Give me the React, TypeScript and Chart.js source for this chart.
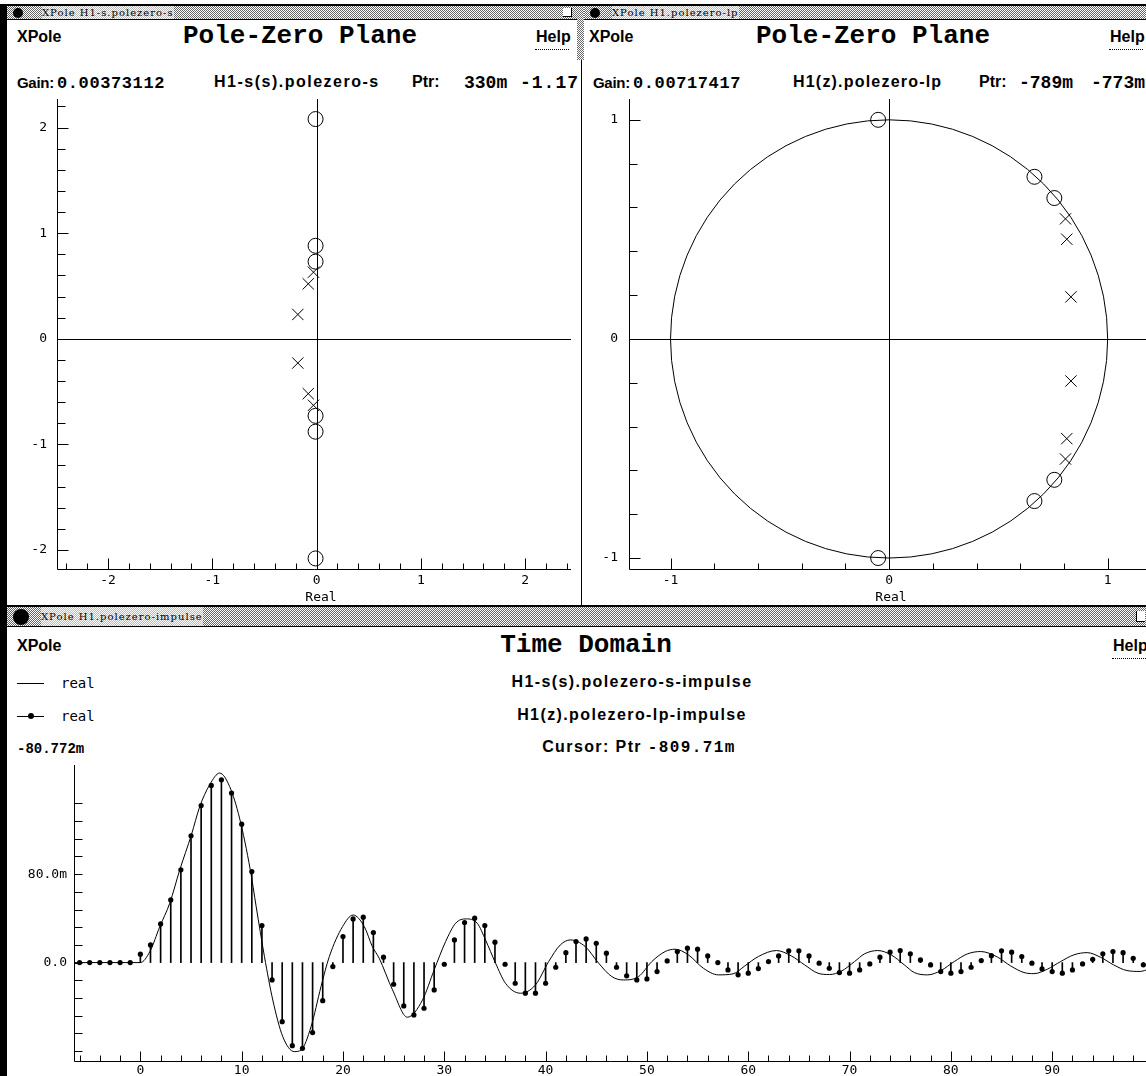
import React, { useEffect, useRef } from 'react';
import { Chart, registerables } from 'chart.js';

Chart.register(...registerables);

// ---------------- data ----------------
// s-plane (H1-s)
const S_ZERO_RE = [-0.01, -0.01, -0.01, -0.01, -0.01, -0.01];
const S_ZERO_IM = [2.08, 0.88, 0.73, -0.73, -0.88, -2.08];
const S_POLE_RE = [-0.03, -0.08, -0.18, -0.18, -0.08, -0.03];
const S_POLE_IM = [0.63, 0.52, 0.23, -0.23, -0.52, -0.63];
const S_TICK_LABELS = [-2, -1, 0, 1, 2];

// z-plane (H1-lp)
const Z_ZERO_RE = [-0.05, 0.665, 0.756, 0.756, 0.665, -0.05];
const Z_ZERO_IM = [1.0, 0.74, 0.643, -0.643, -0.74, -1.0];
const Z_POLE_RE = [0.807, 0.813, 0.832, 0.832, 0.813, 0.807];
const Z_POLE_IM = [0.548, 0.455, 0.192, -0.192, -0.455, -0.548];
const Z_TICK_LABELS = [-1, 0, 1];

// time domain, continuous impulse response (values in milli-units)
const CONT_T = [
  -6.55, 0, 0.94, 1.92, 2.9, 3.89, 5.04, 5.86, 6.84, 7.83, 8.81, 9.79, 10.85, 11.43, 12.25,
  13.07, 14.06, 15.2, 15.87, 16.85, 17.83, 18.65, 19.96, 21.0, 22.1, 22.9, 23.57, 24.89,
  26.36, 27.85, 29.0, 30.13, 31.12, 32.17, 33.25, 34.07, 35.06, 36.04, 37.51, 39.0, 40.3,
  41.45, 42.44, 43.91, 45.23, 46.54, 47.69, 49.17, 50.48, 51.8, 52.78, 54.09, 55.57, 57.05,
  58.5, 59.66, 61.0, 62.78, 64.26, 65.57, 66.88, 68.03, 69.18, 70.49, 71.48, 72.78, 74.1,
  75.41, 76.39, 77.71, 79.02, 80.33, 81.64, 82.95, 84.6, 85.9, 87.22, 88.2, 89.52, 90.83,
  92.14, 93.45, 94.76, 96.07, 97.38, 98.69, 99.5,
];
const CONT_MILLI = [
  0, 0, 10, 32.6, 53.7, 83.9, 115.6, 141, 160.8, 171.4, 159.3, 130.7, 83.9, 50.7, 5.4,
  -33.8, -67, -80.5, -79, -57.9, -21.7, 5.4, 32.6, 43, 32.6, 14.5, 4, -24.7,
  -49.4, -33.8, -6.6, 19, 35.6, 39.5, 35.6, 20.5, -0.5, -18.7, -27.7, -20.2, 0.9,
  16, 20.5, 14.5, -0.5, -12.7, -15.7, -12.7, 0.9, 10, 12.1, 7, -5.1, -11.1,
  -10.2, -3, 5.5, 10.9, 6, -2.1, -9.6, -10.8, -7.8, 0.9, 7.9, 10.9, 7,
  -2.1, -9, -11.1, -7.2, 0.9, 7.9, 10, 5, -3, -9, -10, -6, 0.9,
  7, 9, 4.9, -2.1, -7.2, -8, -6,
];

// time domain, discrete impulse response (values in milli-units)
const DISC_N = [
  -6, -5, -4, -3, -2, -1, 0, 1, 2, 3, 4, 5, 6, 7, 8, 9, 10, 11, 12, 13, 14, 15, 16, 17, 18, 19,
  20, 21, 22, 23, 24, 25, 26, 27, 28, 29, 30, 31, 32, 33, 34, 35, 36, 37, 38, 39, 40, 41, 42,
  43, 44, 45, 46, 47, 48, 49, 50, 51, 52, 53, 54, 55, 56, 57, 58, 59, 60, 61, 62, 63, 64, 65,
  66, 67, 68, 69, 70, 71, 72, 73, 74, 75, 76, 77, 78, 79, 80, 81, 82, 83, 84, 85, 86, 87, 88,
  89, 90, 91, 92, 93, 94, 95, 96, 97, 98, 99,
];
const DISC_MILLI = [
  0, 0, 0, 0, 0, 0, 7.6, 16, 35, 56.7, 83.9, 114.7, 142, 160.2, 165.3, 153.3, 125.2, 82.4, 33.5,
  -15.7, -53.4, -75.1, -77.5, -63.3, -34.4, -3.6,
  23.5, 39.5, 41.1, 27.2, 4.9, -19.6, -39.2, -47.3, -41.3, -24.7, -1.5, 20.5, 36.2, 40.2, 33.5,
  18.5, -1.5, -18.7, -27.7, -27.7, -18.7, -4.2, 9,
  19, 21.4, 17.5, 8.5, -4.2, -12, -15.7, -14.8, -8.1, 1.5, 10, 13, 12.1, 6, 0, -6.6, -11.1,
  -9.6, -5.4, 0.9, 6, 10.6, 10.6,
  6, -0.5, -5.1, -9, -9.6, -6.6, -1.2, 4.9, 9.4, 10.9, 7.9, 2.4, -2.1, -8.1, -9.6, -8.1, -4.2,
  1.8, 6.3, 10.6, 9.4, 5.5, -0.5,
  -5.7, -8.1, -9.6, -6.6, -1.2, 3, 7.9, 10, 9, 3.9, -2,
];
const TIME_X_LABEL_VALUES = [0, 10, 20, 30, 40, 50, 60, 70, 80, 90];
const TIME_Y_TICKS = [-80, -64, -48, -32, -16, 0, 16, 32, 48, 64, 80, 96, 112, 128, 144];
const TIME_Y_LABEL_VALUES = [0, 80];
const TIME_Y_LABELS = ['0.0', '80.0m'];

// ---------------- fonts ----------------
const SANS = "'Liberation Sans', Arial, sans-serif";
const MONO = "'Liberation Mono', 'Courier New', monospace";
const TICKF = "'DejaVu Sans Mono', monospace";
const SERIF = "'DejaVu Serif', serif";
const METRICS: Record<string, [number, number]> = {
  [SANS]: [0.905, 0.212],
  [MONO]: [0.833, 0.3],
  [TICKF]: [0.928, 0.236],
  [SERIF]: [0.928, 0.236],
};

const isMult = (v: number, m: number) => Math.abs(v / m - Math.round(v / m)) < 1e-6;

// ---------------- plugin: axes, inward ticks, crosshair, unit circle ----------------
const xpoleFrame = {
  id: 'xpoleFrame',
  beforeDatasetsDraw(chart: any, _a: any, o: any) {
    const { ctx, chartArea: a, scales } = chart;
    const x = scales.x;
    const y = scales.y;
    ctx.save();
    ctx.strokeStyle = '#000';
    ctx.lineWidth = 1;
    if (o.crosshair) {
      const px = Math.round(x.getPixelForValue(0)) + 0.5;
      const py = Math.round(y.getPixelForValue(0)) + 0.5;
      ctx.beginPath();
      ctx.moveTo(px, a.top);
      ctx.lineTo(px, a.bottom);
      ctx.moveTo(a.left, py);
      ctx.lineTo(a.right, py);
      ctx.stroke();
    }
    if (o.unitCircle) {
      const cx = x.getPixelForValue(0);
      const cy = y.getPixelForValue(0);
      const rx = x.getPixelForValue(1) - cx;
      const ry = cy - y.getPixelForValue(1);
      ctx.beginPath();
      ctx.ellipse(cx, cy, rx, ry, 0, 0, Math.PI * 2);
      ctx.stroke();
    }
    ctx.restore();
  },
  afterDraw(chart: any, _a: any, o: any) {
    const { ctx, chartArea: a, scales } = chart;
    const x = scales.x;
    const y = scales.y;
    ctx.save();
    ctx.strokeStyle = '#000';
    ctx.lineWidth = 1;
    const L = Math.round(a.left) + 0.5;
    const B = Math.round(a.bottom) + 0.5;
    ctx.beginPath();
    ctx.moveTo(L, a.top);
    ctx.lineTo(L, B);
    ctx.lineTo(a.right, B);
    for (const t of x.ticks) {
      const px = Math.round(x.getPixelForValue(t.value)) + 0.5;
      const len = isMult(t.value, o.xMajor) ? o.xMajorLen : o.xMinorLen;
      ctx.moveTo(px, B);
      ctx.lineTo(px, B - len);
    }
    for (const t of y.ticks) {
      const py = Math.round(y.getPixelForValue(t.value)) + 0.5;
      const len = isMult(t.value, o.yMajor) ? o.yMajorLen : o.yMinorLen;
      ctx.moveTo(L, py);
      ctx.lineTo(L + len, py);
    }
    ctx.stroke();
    ctx.restore();
  },
};

function axisBase(min: number, max: number, step: number, padding: number, cb: (v: number) => string) {
  return {
    type: 'linear',
    min,
    max,
    offset: false,
    grid: { display: false, drawTicks: false },
    border: { display: false },
    ticks: {
      stepSize: step,
      autoSkip: false,
      maxRotation: 0,
      minRotation: 0,
      includeBounds: false,
      padding,
      color: '#000',
      font: { family: TICKF, size: 13 },
      callback: (v: any) => cb(Number(v)),
    },
  };
}

function ChartBox({ left, top, width, height, make }: any) {
  const ref = useRef<HTMLCanvasElement>(null);
  useEffect(() => {
    const c = new Chart(ref.current as HTMLCanvasElement, make());
    return () => c.destroy();
  }, []);
  return (
    <canvas
      ref={ref}
      width={width}
      height={height}
      style={{ position: 'absolute', left, top, width, height }}
    />
  );
}

function pzConfig(p: any) {
  const intLabel = (labels: number[]) => (v: number) => {
    const r = Math.round(v);
    return Math.abs(v - r) < 1e-6 && labels.includes(r) ? String(r) : '';
  };
  const x: any = axisBase(p.xmin, p.xmax, 0.2, 4, intLabel(p.labels));
  x.afterFit = (s: any) => {
    s.height = p.xH;
    s.paddingLeft = 0;
    s.paddingRight = 0;
  };
  const y: any = axisBase(p.ymin, p.ymax, 0.2, p.yPad, intLabel(p.labels));
  y.afterFit = (s: any) => {
    s.width = p.yW;
    s.paddingTop = 0;
    s.paddingBottom = 0;
  };
  return {
    type: 'scatter',
    data: {
      datasets: [
        {
          label: 'zeros',
          data: p.zr.map((r: number, i: number) => ({ x: r, y: p.zi[i] })),
          pointStyle: 'circle',
          pointRadius: 7.5,
          borderWidth: 1,
          borderColor: '#000',
          pointBackgroundColor: 'rgba(0,0,0,0)',
          backgroundColor: 'rgba(0,0,0,0)',
        },
        {
          label: 'poles',
          data: p.pr.map((r: number, i: number) => ({ x: r, y: p.pi[i] })),
          pointStyle: 'crossRot',
          pointRadius: 8,
          borderWidth: 1,
          borderColor: '#000',
        },
      ],
    },
    options: {
      responsive: false,
      animation: false,
      events: [],
      devicePixelRatio: 1,
      layout: { padding: { top: p.padTop, right: p.padRight, left: 0, bottom: 0 } },
      plugins: {
        legend: { display: false },
        tooltip: { enabled: false },
        xpoleFrame: {
          crosshair: true,
          unitCircle: !!p.unitCircle,
          xMajor: 1,
          yMajor: 1,
          xMajorLen: 11,
          xMinorLen: 6,
          yMajorLen: 11,
          yMinorLen: 8,
        },
      },
      scales: { x, y },
    },
    plugins: [xpoleFrame],
  };
}

function timeConfig() {
  const x: any = axisBase(-6.55, 99.36, 2, 2, (v) =>
    TIME_X_LABEL_VALUES.includes(Math.round(v)) && isMult(v, 1) ? String(Math.round(v)) : ''
  );
  x.afterFit = (s: any) => {
    s.height = 15;
    s.paddingLeft = 0;
    s.paddingRight = 0;
  };
  const y: any = axisBase(-89, 178.7, 16, 7, (v) => {
    const i = TIME_Y_LABEL_VALUES.indexOf(Math.round(v));
    return i >= 0 ? TIME_Y_LABELS[i] : '';
  });
  y.afterBuildTicks = (s: any) => {
    s.ticks = TIME_Y_TICKS.map((v) => ({ value: v }));
  };
  y.afterFit = (s: any) => {
    s.width = 66;
    s.paddingTop = 0;
    s.paddingBottom = 0;
  };
  const samples = DISC_N.map((n, i) => ({ x: n, y: DISC_MILLI[i] }));
  return {
    type: 'scatter',
    data: {
      datasets: [
        {
          type: 'line',
          label: 'H1-s(s).polezero-s-impulse',
          data: CONT_T.map((t, i) => ({ x: t, y: CONT_MILLI[i] })),
          borderColor: '#000',
          borderWidth: 1,
          pointRadius: 0,
          fill: false,
          cubicInterpolationMode: 'monotone',
        },
        {
          type: 'bar',
          label: 'stems',
          data: samples,
          backgroundColor: '#000',
          borderWidth: 0,
          barThickness: 1,
        },
        {
          type: 'scatter',
          label: 'H1(z).polezero-lp-impulse',
          data: samples,
          pointStyle: 'circle',
          pointRadius: 2.6,
          borderWidth: 0,
          pointBackgroundColor: '#000',
          backgroundColor: '#000',
        },
      ],
    },
    options: {
      responsive: false,
      animation: false,
      events: [],
      devicePixelRatio: 1,
      layout: { padding: { top: 10, right: 1, left: 0, bottom: 0 } },
      plugins: {
        legend: { display: false },
        tooltip: { enabled: false },
        xpoleFrame: {
          crosshair: false,
          unitCircle: false,
          xMajor: 10,
          yMajor: 80,
          xMajorLen: 10,
          xMinorLen: 6,
          yMajorLen: 8,
          yMinorLen: 8,
        },
      },
      scales: { x, y },
    },
    plugins: [xpoleFrame],
  };
}

// ---------------- HTML helpers ----------------
function Txt({ x, base, size, family, bold, ls, align, children }: any) {
  const [a, d] = METRICS[family];
  const off = (size - (a + d) * size) / 2 + a * size;
  const style: any = {
    position: 'absolute',
    top: base - off,
    fontSize: size,
    lineHeight: size + 'px',
    height: size,
    fontFamily: family,
    fontWeight: bold ? 'bold' : 'normal',
    letterSpacing: ls || 0,
    whiteSpace: 'nowrap',
    color: '#000',
  };
  if (align === 'center') {
    style.left = x - 300;
    style.width = 600;
    style.textAlign = 'center';
  } else {
    style.left = x;
  }
  return <div style={style}>{children}</div>;
}

const stipple = {
  backgroundColor: '#fff',
  backgroundImage: 'repeating-conic-gradient(#666 0 25%, #fff 0 50%)',
  backgroundSize: '2px 2px',
};

function Box({ l, t, w, h, s }: any) {
  return <div style={{ position: 'absolute', left: l, top: t, width: w, height: h, ...s }} />;
}

function TitleBar({ l, t, w, h, text, textX }: any) {
  return (
    <>
      <Box l={l} t={t} w={w} h={h} s={stipple} />
      <Box l={l} t={t + h} w={w} h={1} s={{ background: '#000' }} />
      <Box l={l + 6} t={t + 2} w={h - 3} h={h - 3} s={{ background: '#000', borderRadius: '50%' }} />
      <div
        style={{
          position: 'absolute',
          left: textX,
          top: t,
          height: h,
          lineHeight: h + 'px',
          fontFamily: SERIF,
          fontSize: 10,
          letterSpacing: 1,
          whiteSpace: 'nowrap',
          background: 'rgba(255,255,255,0.55)',
          color: '#000',
        }}
      >
        {text}
      </div>
    </>
  );
}

function Help({ x, base }: any) {
  return (
    <>
      <Txt x={x} base={base} size={16} family={SANS} bold>
        Help
      </Txt>
      <Box l={x - 1} t={base + 6} w={34} h={0} s={{ borderBottom: '1px dotted #000' }} />
    </>
  );
}

function Gain({ x, value }: any) {
  return (
    <>
      <Txt x={x} base={88} size={15} family={SANS} bold ls={-0.3}>Gain:</Txt>
      <Txt x={x + 40} base={88} size={17} family={MONO} bold ls={0.6}>{value}</Txt>
    </>
  );
}

export default function App() {
  useEffect(() => {
    document.body.style.margin = '0';
    document.body.style.overflow = 'hidden';
  }, []);
  return (
    <div
      style={{
        position: 'absolute',
        left: 0,
        top: 0,
        width: 1146,
        height: 1076,
        overflow: 'hidden',
        background: '#fff',
      }}
    >
      {/* window frames */}
      <Box l={0} t={4} w={1146} h={2} s={{ background: '#000' }} />
      <Box l={0} t={4} w={7} h={1072} s={{ background: '#000' }} />
      <TitleBar l={7} t={6} w={573} h={13} text="XPole H1-s.polezero-s" textX={42} />
      <TitleBar l={584} t={6} w={562} h={13} text="XPole H1.polezero-lp" textX={612} />
      <Box l={563} t={8} w={8} h={8} s={{ background: '#fff', borderRight: '1px solid #000', borderBottom: '1px solid #000' }} />
      <Box l={577} t={6} w={7} h={54} s={stipple} />
      <Box l={581} t={60} w={1} h={546} s={{ background: '#000' }} />
      <Box l={7} t={605} w={1139} h={2} s={{ background: '#000' }} />
      <TitleBar l={7} t={607} w={1139} h={19} text="XPole H1.polezero-impulse" textX={41} />
      <Box l={1136} t={611} w={8} h={10} s={{ background: '#fff', borderLeft: '1px solid #000', borderBottom: '1px solid #000' }} />

      {/* top-left header */}
      <Txt x={17} base={43} size={16} family={SANS} bold>XPole</Txt>
      <Txt x={300} base={43} size={26} family={MONO} bold align="center">Pole-Zero Plane</Txt>
      <Help x={536} base={43} />
      <Gain x={17} value="0.00373112" />
      <Txt x={214} base={88} size={16} family={SANS} bold ls={1.5}>H1-s(s).polezero-s</Txt>
      <Txt x={412} base={88} size={16} family={SANS} bold>Ptr:</Txt>
      <Txt x={464} base={88} size={18} family={MONO} bold>330m</Txt>
      <Txt x={520} base={88} size={18} family={MONO} bold ls={1}>-1.17</Txt>

      {/* top-right header */}
      <Txt x={589} base={43} size={16} family={SANS} bold>XPole</Txt>
      <Txt x={873} base={43} size={26} family={MONO} bold align="center">Pole-Zero Plane</Txt>
      <Help x={1110} base={43} />
      <Gain x={593} value="0.00717417" />
      <Txt x={793} base={88} size={16} family={SANS} bold ls={1.2}>H1(z).polezero-lp</Txt>
      <Txt x={979} base={88} size={16} family={SANS} bold>Ptr:</Txt>
      <Txt x={1019} base={88} size={18} family={MONO} bold>-789m</Txt>
      <Txt x={1091} base={88} size={18} family={MONO} bold>-773m</Txt>

      {/* pole-zero charts */}
      <ChartBox
        left={8}
        top={90}
        width={572}
        height={516}
        make={() =>
          pzConfig({
            xmin: -2.49, xmax: 2.44, ymin: -2.18, ymax: 2.27,
            labels: S_TICK_LABELS, xH: 37, yW: 49, yPad: 10, padTop: 5, padRight: 0,
            zr: S_ZERO_RE, zi: S_ZERO_IM, pr: S_POLE_RE, pi: S_POLE_IM,
          })
        }
      />
      <Txt x={321} base={601} size={13} family={TICKF} align="center">Real</Txt>
      <ChartBox
        left={584}
        top={90}
        width={572}
        height={516}
        make={() =>
          pzConfig({
            xmin: -1.19, xmax: 1.18, ymin: -1.05, ymax: 1.095,
            labels: Z_TICK_LABELS, xH: 37, yW: 45, yPad: 11, padTop: 5, padRight: 1,
            zr: Z_ZERO_RE, zi: Z_ZERO_IM, pr: Z_POLE_RE, pi: Z_POLE_IM, unitCircle: true,
          })
        }
      />
      <Txt x={891} base={601} size={13} family={TICKF} align="center">Real</Txt>

      {/* bottom header */}
      <Txt x={17} base={652} size={16} family={SANS} bold>XPole</Txt>
      <Txt x={586} base={652} size={26} family={MONO} bold align="center">Time Domain</Txt>
      <Help x={1113} base={652} />

      <Box l={17} t={683} w={27} h={1} s={{ background: '#000' }} />
      <Txt x={61} base={688} size={14} family={TICKF}>real</Txt>
      <Box l={17} t={716} w={27} h={1} s={{ background: '#000' }} />
      <Box l={28} t={713} w={6} h={6} s={{ background: '#000', borderRadius: '50%' }} />
      <Txt x={61} base={721} size={14} family={TICKF}>real</Txt>
      <Txt x={17} base={753} size={14} family={MONO} bold>-80.772m</Txt>

      <Txt x={632} base={688} size={16} family={SANS} bold ls={1.4} align="center">
        H1-s(s).polezero-s-impulse
      </Txt>
      <Txt x={632} base={721} size={16} family={SANS} bold ls={1.4} align="center">
        H1(z).polezero-lp-impulse
      </Txt>
      <Txt x={639} base={753} size={16} family={SANS} bold ls={1.4} align="center">
        Cursor: Ptr <span style={{ fontFamily: MONO }}>-809.71m</span>
      </Txt>

      {/* time domain chart */}
      <ChartBox left={8} top={755} width={1143} height={321} make={timeConfig} />
    </div>
  );
}
